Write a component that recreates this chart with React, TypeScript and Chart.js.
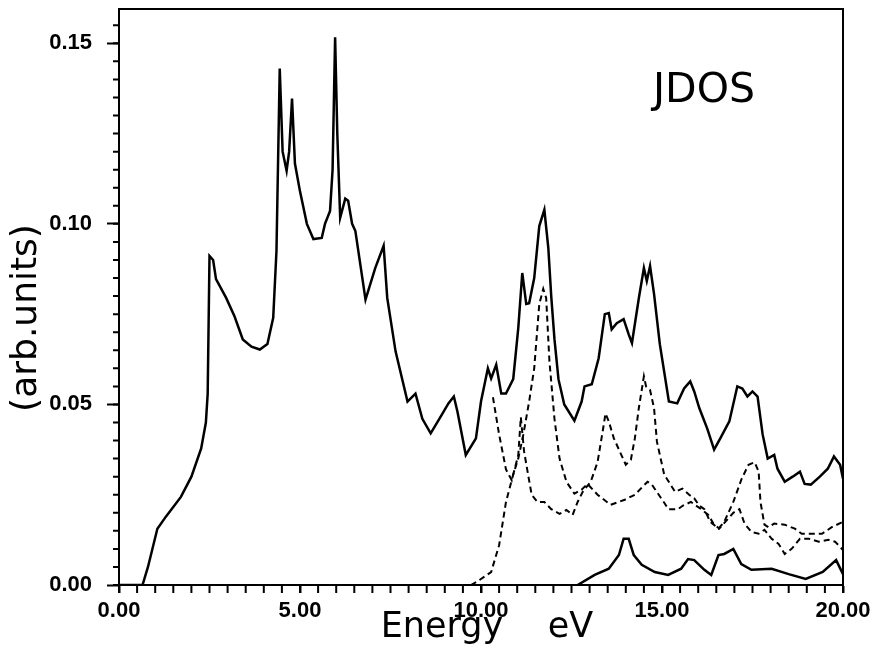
import React, { useEffect, useRef } from "react";
import { Chart, registerables } from "chart.js";

Chart.register(...registerables);

// ---- data (energy in eV, JDOS in arb. units) ----
const totalEnergy = [0, 0.65, 0.8, 1.06, 1.3, 1.71, 2.0, 2.27, 2.4, 2.45, 2.5, 2.6, 2.68, 2.96, 3.19, 3.42, 3.66, 3.89, 4.1, 4.26, 4.35, 4.44, 4.52, 4.63, 4.7, 4.78, 4.86, 5.0, 5.19, 5.37, 5.6, 5.69, 5.83, 5.9, 5.97, 6.03, 6.11, 6.25, 6.33, 6.44, 6.53, 6.81, 7.08, 7.31, 7.41, 7.64, 7.97, 8.19, 8.38, 8.61, 8.89, 9.1, 9.25, 9.35, 9.58, 9.86, 10.0, 10.19, 10.28, 10.42, 10.56, 10.69, 10.89, 11.03, 11.14, 11.25, 11.33, 11.47, 11.61, 11.75, 11.86, 11.94, 12.03, 12.14, 12.3, 12.58, 12.78, 12.86, 13.06, 13.25, 13.42, 13.53, 13.61, 13.75, 13.94, 14.08, 14.17, 14.36, 14.5, 14.58, 14.67, 14.78, 14.94, 15.19, 15.42, 15.61, 15.78, 15.89, 16.03, 16.25, 16.44, 16.61, 16.86, 17.08, 17.22, 17.36, 17.5, 17.64, 17.78, 17.92, 18.1, 18.19, 18.39, 18.61, 18.81, 18.94, 19.11, 19.36, 19.58, 19.75, 19.92, 20.0];
const totalJdos = [0, 0, 0.005, 0.0156, 0.019, 0.0244, 0.03, 0.0378, 0.045, 0.053, 0.0911, 0.09, 0.0847, 0.0795, 0.0744, 0.068, 0.066, 0.0652, 0.0667, 0.074, 0.0925, 0.143, 0.12, 0.1147, 0.12, 0.1347, 0.1167, 0.109, 0.1, 0.0958, 0.0961, 0.1, 0.1036, 0.115, 0.1517, 0.125, 0.1017, 0.107, 0.1064, 0.1, 0.098, 0.079, 0.0878, 0.0939, 0.0795, 0.0647, 0.0508, 0.053, 0.046, 0.042, 0.0467, 0.0503, 0.0522, 0.048, 0.036, 0.0406, 0.0508, 0.06, 0.0572, 0.061, 0.053, 0.053, 0.057, 0.0712, 0.0864, 0.0778, 0.078, 0.085, 0.0994, 0.1039, 0.0933, 0.08, 0.068, 0.057, 0.05, 0.0455, 0.0508, 0.055, 0.0556, 0.0628, 0.075, 0.0753, 0.0708, 0.0725, 0.0736, 0.0694, 0.067, 0.0794, 0.0878, 0.0842, 0.0883, 0.0806, 0.0667, 0.0508, 0.0503, 0.0544, 0.0564, 0.0536, 0.049, 0.0433, 0.0375, 0.0406, 0.0453, 0.055, 0.0544, 0.0522, 0.0536, 0.0522, 0.0417, 0.035, 0.036, 0.0322, 0.0286, 0.03, 0.0314, 0.028, 0.0278, 0.03, 0.0322, 0.0356, 0.0333, 0.0294];

const dashedAEnergy = [9.72, 9.9, 10.28, 10.5, 10.69, 10.89, 11.03, 11.17, 11.33, 11.47, 11.61, 11.72, 11.8, 11.89, 12.03, 12.17, 12.36, 12.58, 12.78, 12.94, 13.22, 13.58, 13.97, 14.25, 14.6, 14.72, 15.08, 15.17, 15.44, 15.58, 15.8, 16.08, 16.28, 16.42, 16.58, 16.97, 17.14, 17.28, 17.47, 17.67, 17.83, 18.03, 18.22, 18.39, 18.58, 18.81, 19.06, 19.33, 19.6, 19.78, 20.0];
const dashedAJdos = [0, 0.001, 0.0036, 0.011, 0.023, 0.0306, 0.035, 0.0417, 0.0508, 0.06, 0.0778, 0.082, 0.0795, 0.062, 0.046, 0.035, 0.0286, 0.0253, 0.0264, 0.028, 0.025, 0.0222, 0.0236, 0.025, 0.0286, 0.0278, 0.0225, 0.021, 0.021, 0.022, 0.023, 0.021, 0.0194, 0.017, 0.0156, 0.02, 0.021, 0.017, 0.0147, 0.0142, 0.0153, 0.0128, 0.0114, 0.0086, 0.01, 0.0128, 0.0128, 0.012, 0.0125, 0.012, 0.0097];

const dashedBEnergy = [10.33, 10.5, 10.69, 10.85, 11.03, 11.1, 11.19, 11.3, 11.4, 11.56, 11.75, 11.94, 12.17, 12.36, 12.53, 12.67, 12.81, 13.03, 13.22, 13.36, 13.44, 13.53, 13.67, 13.86, 14.0, 14.14, 14.25, 14.36, 14.5, 14.56, 14.67, 14.78, 14.86, 15.06, 15.36, 15.56, 15.75, 15.89, 16.03, 16.17, 16.33, 16.56, 16.72, 16.97, 17.2, 17.39, 17.56, 17.67, 17.72, 17.83, 17.94, 18.1, 18.39, 18.67, 18.86, 19.14, 19.42, 19.69, 20.0];
const dashedBJdos = [0.052, 0.0417, 0.032, 0.029, 0.036, 0.0465, 0.037, 0.0306, 0.025, 0.023, 0.023, 0.021, 0.0197, 0.0208, 0.0194, 0.023, 0.0258, 0.0286, 0.034, 0.0425, 0.0475, 0.0453, 0.0406, 0.0364, 0.0333, 0.0347, 0.0406, 0.049, 0.0578, 0.055, 0.054, 0.049, 0.0397, 0.0306, 0.0258, 0.0267, 0.025, 0.024, 0.022, 0.021, 0.0175, 0.0156, 0.0175, 0.023, 0.0294, 0.0333, 0.034, 0.0314, 0.023, 0.0167, 0.016, 0.017, 0.0167, 0.0156, 0.0142, 0.0142, 0.0142, 0.016, 0.0175];

const lowEnergy = [12.67, 13.14, 13.53, 13.81, 13.94, 14.08, 14.22, 14.44, 14.8, 15.17, 15.53, 15.72, 15.89, 16.17, 16.36, 16.56, 16.72, 16.97, 17.19, 17.47, 18.03, 18.5, 18.97, 19.44, 19.81, 20.0];
const lowJdos = [0, 0.0028, 0.0045, 0.0083, 0.0128, 0.0128, 0.0083, 0.0056, 0.0036, 0.0028, 0.0045, 0.0072, 0.0069, 0.0042, 0.0028, 0.0083, 0.0086, 0.01, 0.0058, 0.0042, 0.0045, 0.003, 0.0017, 0.0036, 0.0069, 0.003];

const xMajorTicks = [0, 5, 10, 15, 20];
const yMajorTicks = [0, 0.05, 0.1, 0.15];
const xMinorStep = 0.5;
const yMinorStep = 0.005;
const xTitle = "Energy    eV";
const yTitle = "(arb.units)";
const panelLabel = "JDOS";

const toPoints = (xs: number[], ys: number[]) => xs.map((x, i) => ({ x, y: ys[i] }));

const decorPlugin = {
  id: "decor",
  afterDraw(chart: any) {
    const { ctx, chartArea: a, scales } = chart;
    const xs = scales.x;
    const ys = scales.y;
    ctx.save();
    ctx.strokeStyle = "#000";
    ctx.lineWidth = 2;
    ctx.beginPath();
    const ny = Math.floor(ys.max / yMinorStep + 1e-6);
    for (let i = 0; i <= ny; i++) {
      const p = ys.getPixelForValue(i * yMinorStep);
      ctx.moveTo(a.left - 6, p);
      ctx.lineTo(a.left, p);
    }
    const nx = Math.round((xs.max - xs.min) / xMinorStep);
    for (let i = 0; i <= nx; i++) {
      const p = xs.getPixelForValue(xs.min + i * xMinorStep);
      ctx.moveTo(p, a.bottom);
      ctx.lineTo(p, a.bottom + 8);
    }
    ctx.stroke();
    ctx.strokeRect(a.left, a.top, a.right - a.left, a.bottom - a.top);

    ctx.fillStyle = "#000";
    ctx.textAlign = "center";
    ctx.textBaseline = "middle";
    ctx.font = '35px "DejaVu Sans"';
    ctx.fillText(xTitle, 487, 628);
    ctx.font = '41px "DejaVu Sans"';
    ctx.fillText(panelLabel, 704, 91);
    ctx.translate(27, 318);
    ctx.rotate(-Math.PI / 2);
    ctx.font = '36px "DejaVu Sans"';
    ctx.fillText(yTitle, 0, 0);
    ctx.restore();
  },
};

export default function App() {
  const ref = useRef<HTMLCanvasElement | null>(null);
  useEffect(() => {
    if (!ref.current) return;
    const tickFont = { family: '"Liberation Sans", Arial, sans-serif', size: 22, weight: "bold" as const };
    const chart = new Chart(ref.current, {
      type: "line",
      data: {
        datasets: [
          { data: toPoints(totalEnergy, totalJdos), borderColor: "#000", borderWidth: 2.5, pointRadius: 0, tension: 0, fill: false },
          { data: toPoints(dashedAEnergy, dashedAJdos), borderColor: "#000", borderWidth: 2, borderDash: [6, 4], pointRadius: 0, tension: 0, fill: false },
          { data: toPoints(dashedBEnergy, dashedBJdos), borderColor: "#000", borderWidth: 2, borderDash: [6, 4], pointRadius: 0, tension: 0, fill: false },
          { data: toPoints(lowEnergy, lowJdos), borderColor: "#000", borderWidth: 2.5, pointRadius: 0, tension: 0, fill: false },
        ],
      },
      options: {
        responsive: false,
        animation: false,
        layout: { padding: { top: 9, right: 31, left: 0, bottom: 0 } },
        plugins: { legend: { display: false }, tooltip: { enabled: false }, title: { display: false } },
        scales: {
          x: {
            type: "linear",
            min: 0,
            max: 20,
            afterBuildTicks: (s: any) => { s.ticks = xMajorTicks.map((value) => ({ value })); },
            afterFit: (s: any) => { s.height = 73; s.paddingLeft = 0; s.paddingRight = 0; },
            border: { display: true, color: "#000", width: 2 },
            grid: { display: true, drawOnChartArea: false, drawTicks: true, tickLength: 8, tickWidth: 2, tickColor: "#000" },
            ticks: { color: "#000", font: tickFont, padding: 5, maxRotation: 0, callback: (v: any) => Number(v).toFixed(2) },
          },
          y: {
            type: "linear",
            min: 0,
            max: 0.1595,
            afterBuildTicks: (s: any) => { s.ticks = yMajorTicks.map((value) => ({ value })); },
            afterFit: (s: any) => { s.width = 119; s.paddingTop = 0; s.paddingBottom = 0; },
            border: { display: true, color: "#000", width: 2 },
            grid: { display: true, drawOnChartArea: false, drawTicks: true, tickLength: 12, tickWidth: 2, tickColor: "#000" },
            ticks: { color: "#000", font: tickFont, padding: 15, callback: (v: any) => Number(v).toFixed(2) },
          },
        },
      },
      plugins: [decorPlugin],
    });
    return () => chart.destroy();
  }, []);
  return (
    <div style={{ position: "fixed", left: 0, top: 0, width: 874, height: 658, background: "#fff" }}>
      <canvas ref={ref} width={874} height={658} style={{ width: 874, height: 658 }} />
    </div>
  );
}
